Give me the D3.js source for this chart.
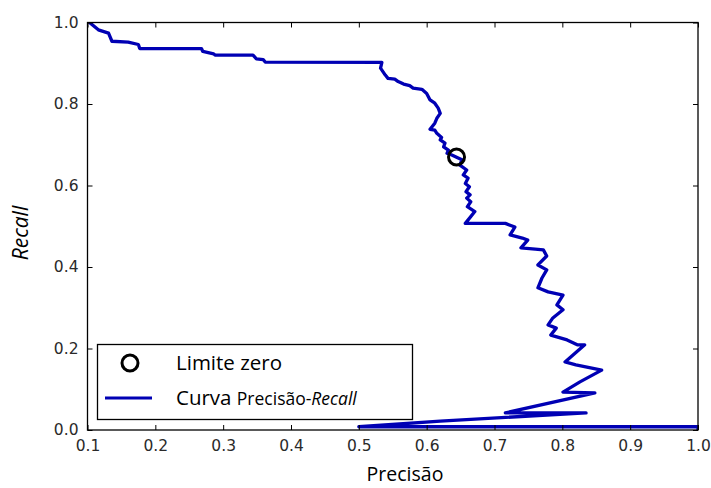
<!DOCTYPE html>
<html>
<head>
<meta charset="utf-8">
<script src="https://cdn.jsdelivr.net/npm/d3@7"></script>
<style>
  html, body { margin: 0; padding: 0; background: #fff; }
  svg { display: block; }
  .tick text { font-family: "DejaVu Sans", sans-serif; font-size: 15.5px; fill: #2a2a2a; }
</style>
</head>
<body>
<svg id="chart" width="711" height="488"></svg>
<script>
// ---- data ----
const precision = [
  0.103, 0.116, 0.131, 0.136, 0.160, 0.175, 0.177, 0.268, 0.270, 0.286, 0.288, 0.344, 0.349, 0.359, 0.362, 0.534,
  0.532, 0.539, 0.543, 0.553, 0.558, 0.566, 0.575, 0.580, 0.593, 0.600, 0.605, 0.612, 0.617, 0.620, 0.615, 0.612,
  0.605, 0.612, 0.615, 0.622, 0.620, 0.627, 0.625, 0.632, 0.630, 0.637, 0.652, 0.649, 0.659, 0.654, 0.661, 0.657,
  0.663, 0.658, 0.664, 0.659, 0.665, 0.660, 0.671, 0.657, 0.716,
  0.730, 0.723, 0.741, 0.749, 0.739, 0.760, 0.772, 0.777, 0.764, 0.777, 0.770, 0.764, 0.779, 0.801, 0.792, 0.801,
  0.786, 0.779, 0.791, 0.783, 0.807, 0.822, 0.833, 0.804, 0.820, 0.858, 0.826, 0.801, 0.848, 0.716, 0.835, 0.620,
  0.500, 1.000, 1.000
];
const recall = [
  1.000, 0.982, 0.974, 0.954, 0.952, 0.946, 0.936, 0.936, 0.929, 0.923, 0.920, 0.920, 0.911, 0.909, 0.903, 0.902,
  0.888, 0.871, 0.863, 0.861, 0.855, 0.849, 0.845, 0.839, 0.836, 0.826, 0.810, 0.802, 0.790, 0.777, 0.765, 0.753,
  0.738, 0.736, 0.728, 0.718, 0.712, 0.704, 0.695, 0.687, 0.679, 0.675, 0.663, 0.650, 0.638, 0.626, 0.618, 0.605,
  0.597, 0.585, 0.577, 0.569, 0.560, 0.548, 0.536, 0.507, 0.507,
  0.498, 0.479, 0.471, 0.466, 0.447, 0.444, 0.442, 0.427, 0.405, 0.393, 0.373, 0.349, 0.339, 0.331, 0.307, 0.295,
  0.275, 0.258, 0.250, 0.233, 0.221, 0.209, 0.209, 0.167, 0.160, 0.147, 0.118, 0.093, 0.091, 0.042, 0.042, 0.022,
  0.008, 0.008, 0.000
];
const zeroThreshold = { precision: [0.644], recall: [0.670] };
const xTicks = [0.1, 0.2, 0.3, 0.4, 0.5, 0.6, 0.7, 0.8, 0.9, 1.0];
const yTicks = [0.0, 0.2, 0.4, 0.6, 0.8, 1.0];
const xTitle = "Precisão";
const yTitle = "Recall";
const legendLabels = ["Limite zero", "Curva", "Precisão-", "Recall"];

// ---- layout ----
const L = 87.5, R = 698, T = 22.5, B = 430;
const blue = "#0000b4";
const svg = d3.select("#chart");
const x = d3.scaleLinear().domain([0.1, 1.0]).range([L, R]);
const y = d3.scaleLinear().domain([0, 1.0]).range([B, T]);

const fmt = d3.format(".1f");

svg.append("defs").append("clipPath").attr("id", "clip")
  .append("rect").attr("x", L).attr("y", T).attr("width", R - L).attr("height", B - T);

// curve
const pts = precision.map((p, i) => [p, recall[i]]);
svg.append("path")
  .datum(pts)
  .attr("clip-path", "url(#clip)")
  .attr("fill", "none")
  .attr("stroke", blue)
  .attr("stroke-width", 3.3)
  .attr("stroke-linejoin", "round")
  .attr("stroke-linecap", "round")
  .attr("d", d3.line().x(d => x(d[0])).y(d => y(d[1])));

// zero-threshold marker
svg.append("g").selectAll("circle")
  .data(zeroThreshold.precision.map((p, i) => [p, zeroThreshold.recall[i]]))
  .join("circle")
  .attr("cx", d => x(d[0])).attr("cy", d => y(d[1]))
  .attr("r", 8).attr("fill", "none").attr("stroke", "#000").attr("stroke-width", 3);

// axes (inward ticks on all four sides)
const gx = svg.append("g").attr("transform", `translate(0,${B})`)
  .call(d3.axisBottom(x).tickValues(xTicks).tickFormat(fmt).tickSizeInner(-5).tickSizeOuter(0).tickPadding(10));
const gy = svg.append("g").attr("transform", `translate(${L},0)`)
  .call(d3.axisLeft(y).tickValues(yTicks).tickFormat(fmt).tickSizeInner(-5).tickSizeOuter(0).tickPadding(9));
const gt = svg.append("g").attr("transform", `translate(0,${T})`)
  .call(d3.axisTop(x).tickValues(xTicks).tickFormat("").tickSizeInner(-5).tickSizeOuter(0));
const gr = svg.append("g").attr("transform", `translate(${R},0)`)
  .call(d3.axisRight(y).tickValues(yTicks).tickFormat("").tickSizeInner(-5).tickSizeOuter(0));
[gx, gy, gt, gr].forEach(g => {
  g.select(".domain").remove();
  g.selectAll(".tick line").attr("stroke", "#000").attr("stroke-width", 1);
});

// frame
svg.append("rect").attr("x", L).attr("y", T).attr("width", R - L).attr("height", B - T)
  .attr("fill", "none").attr("stroke", "#000").attr("stroke-width", 1.3);

// axis titles
svg.append("text").attr("x", 405).attr("y", 481)
  .attr("text-anchor", "middle")
  .style("font-family", "'Open Sans', sans-serif").style("font-size", "19.5px").style("fill", "#000")
  .text(xTitle);
svg.append("text").attr("transform", "translate(28,233) rotate(-90)")
  .attr("text-anchor", "middle")
  .style("font-family", "'Open Sans', sans-serif").style("font-size", "21px").style("font-style", "italic").style("fill", "#000")
  .text(yTitle);

// legend
const lg = svg.append("g");
lg.append("rect").attr("x", 97.5).attr("y", 344.5).attr("width", 315).attr("height", 75)
  .attr("fill", "#fff").attr("stroke", "#000").attr("stroke-width", 1.3);
lg.append("circle").attr("cx", 130).attr("cy", 363).attr("r", 8)
  .attr("fill", "none").attr("stroke", "#000").attr("stroke-width", 3);
lg.append("line").attr("x1", 105).attr("x2", 152).attr("y1", 398).attr("y2", 398)
  .attr("stroke", blue).attr("stroke-width", 3);
lg.append("text").attr("x", 176).attr("y", 370)
  .style("font-family", "'Open Sans', sans-serif").style("font-size", "20.5px").style("fill", "#000")
  .text(legendLabels[0]);
const t2 = lg.append("text").attr("x", 176).attr("y", 405)
  .style("font-family", "'Open Sans', sans-serif").style("fill", "#000");
t2.append("tspan").style("font-size", "20.5px").text(legendLabels[1] + " ");
t2.append("tspan").style("font-size", "17.5px").text(legendLabels[2]);
t2.append("tspan").style("font-size", "17.5px").style("font-style", "italic").text(legendLabels[3]);
</script>
</body>
</html>
